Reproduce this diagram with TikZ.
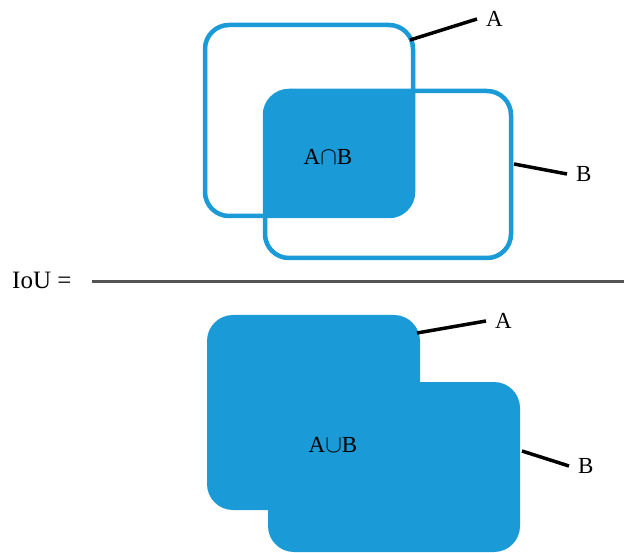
\documentclass[tikz,border=0pt]{standalone}
\usepackage{fontspec}
\setmainfont{Liberation Serif}
\definecolor{boxblue}{RGB}{26,154,214}
\definecolor{barline}{RGB}{85,85,85}
\begin{document}
\begin{tikzpicture}[x=1pt,y=-1pt,
  outline/.style={draw=boxblue,line width=4.5pt,rounded corners=24pt},
  solid/.style={fill=boxblue,rounded corners=26pt},
  leader/.style={draw=black,line width=3.5pt},
  lbl/.style={font=\fontsize{23}{27}\selectfont,inner sep=0pt,text=black},
  setlbl/.style={font=\fontsize{23}{27}\selectfont,inner sep=0pt,text=black}]
\useasboundingbox (0,0) rectangle (624,553);

% --- numerator: two overlapping boxes and their intersection
\begin{scope}
  \clip[rounded corners=24pt] (205,25) rectangle (413,216);
  \fill[boxblue,rounded corners=24pt] (265,91) rectangle (511,258);
\end{scope}
\path[outline] (205,25) rectangle (413,216);
\path[outline] (265,91) rectangle (511,258);
\node[setlbl] (inter) at (328,157) {A$\cap$B};

\coordinate (aTop) at (410,40);
\coordinate (bTop) at (514,164);
\node[lbl,anchor=west] (labA1) at (486,19) {A};
\node[lbl,anchor=west] (labB1) at (576,174) {B};
\draw[leader] (aTop) -- ([xshift=-9pt]labA1.west);
\draw[leader] (bTop) -- ([xshift=-9pt]labB1.west);

% --- fraction bar
\node[lbl,anchor=west,font=\fontsize{25}{29}\selectfont] (iou) at (12,280) {IoU =};
\coordinate (barStart) at (92,282);
\coordinate (barEnd) at (624,282);
\draw[barline,line width=3pt] (barStart) -- (barEnd);

% --- denominator: union of the two boxes
\path[solid] (207,315) rectangle (420,510);
\path[solid] (268,382) rectangle (520,552);
\node[setlbl] (union) at (333,445) {A$\cup$B};

\coordinate (aBot) at (417,333);
\coordinate (bBot) at (522,451);
\node[lbl,anchor=west] (labA2) at (495,321) {A};
\node[lbl,anchor=west] (labB2) at (578,466) {B};
\draw[leader] (aBot) -- ([xshift=-9pt]labA2.west);
\draw[leader] (bBot) -- ([xshift=-9pt]labB2.west);
\end{tikzpicture}
\end{document}
